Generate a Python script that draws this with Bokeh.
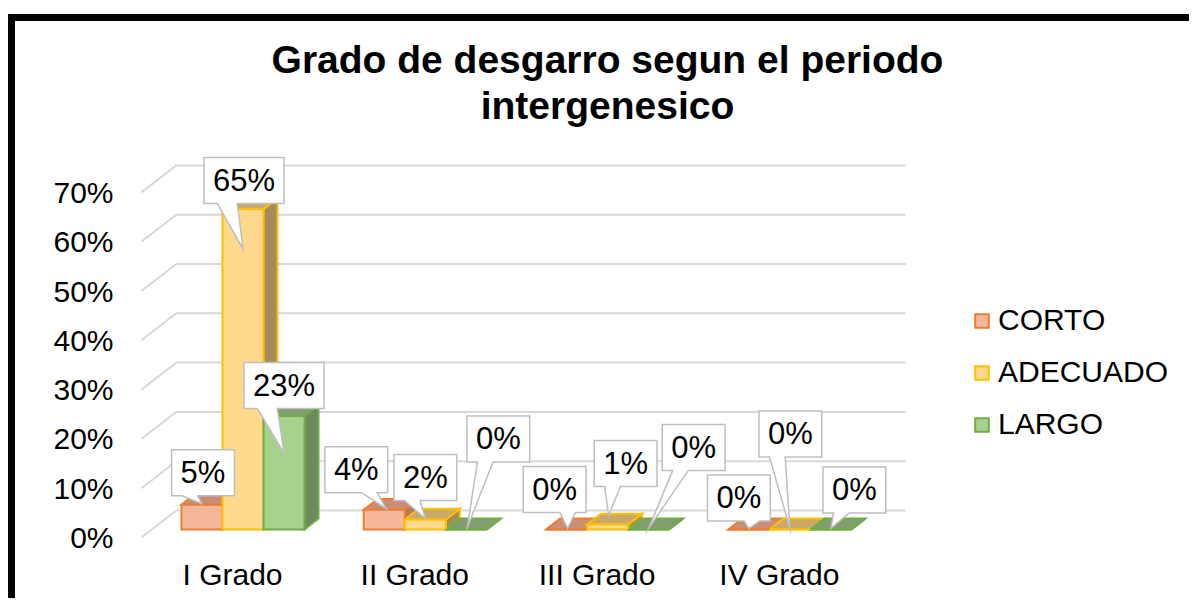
from bokeh.plotting import figure
from bokeh.models import Range1d, FixedTicker, PrintfTickFormatter, Legend, LegendItem, Title
from bokeh.embed import file_html
from bokeh.resources import INLINE
from bokeh.core.properties import value

# ---------------- data ----------------
CATEGORIES = ["I Grado", "II Grado", "III Grado", "IV Grado"]
SERIES = ["CORTO", "ADECUADO", "LARGO"]
CORTO = [5, 4, 0, 0]
ADECUADO = [65, 2, 1, 0]
LARGO = [23, 0, 0, 0]
Y_TICKS = [0, 10, 20, 30, 40, 50, 60, 70]
TITLE_LINES = ["Grado de desgarro segun el periodo", "intergenesico"]

VALUES = [CORTO, ADECUADO, LARGO]

# ---------------- style ----------------
FONT = "Liberation Sans"
FRONT = ["#F5B799", "#FFD98B", "#A9D18E"]
EDGE = ["#ED7D31", "#FFC000", "#70AD47"]
TOP = ["#C98E73", "#C9A86A", "#819E6E"]
SIDE = ["#B27A60", "#A58B5B", "#6E8A5D"]
GRID = "#D9D9D9"

W, H = 1181, 584
ML, MR, MT, MB = 125, 0, 107, 55
PXX, PXY = 182.3, 4.93          # px per category unit / per percent
OX, OY = 217.0, 516.0           # canvas position of x=0, y=0 on the front plane
DEPTH_PX = (35.0, 27.0)         # screen shift from front (z=0) to back wall (z=1)
BAR_W = 0.225
Z0, Z1 = 0.3, 0.7
TITLE_PX = 39
TITLE_CENTER = 592              # canvas x of the title centre

# data-label layout: box-centre offset and pointer-tip offset (px) from bar top
BOX_OFF = [[(1, -32), (1, -28.5), (0, -30.6)],
           [(-28, -40), (0, -42), (32, -90.5)],
           [(-12, -40), (18, -61), (45, -82)],
           [(-10, -31.5), (0.5, -95.5), (23.5, -39.5)]]
TIP_OFF = [[(0, -1), (0, 40), (0, 37)],
           [(2, -1), (0, -1), (1, -2)],
           [(1, -1), (1, -9), (0, -1)],
           [(0, -1), (0, -1), (0, -1)]]
LABEL_PX = 31
BOX_H = 46

# Arial/Liberation Sans Bold advance widths (em) for centring the title lines
BOLD_W = {"G": .778, "r": .389, "a": .556, "d": .611, "o": .611, " ": .278, "e": .556,
          "s": .556, "g": .611, "u": .611, "n": .611, "l": .278, "p": .611, "i": .278,
          "t": .333, "c": .556}


def proj(x, y, z):
    return x + z * DEPTH_PX[0] / PXX, y + z * DEPTH_PX[1] / PXY


def to_data(cx, cy):
    return (cx - OX) / PXX, (OY - cy) / PXY


def to_canvas(xd, yd):
    return OX + xd * PXX, OY - yd * PXY


def poly(pts3):
    xs, ys = [], []
    for (x, y, z) in pts3:
        a, b = proj(x, y, z)
        xs.append(a)
        ys.append(b)
    return xs, ys


def callout(l, t, r, b, xt, yt):
    w, h = r - l, b - t
    hc, vc = (l + r) / 2, (t + b) / 2
    dx, dy = xt - hc, yt - vc
    dq = dx * h / w
    if abs(dy) - abs(dq) > 0:
        a, c = (7, 10) if dx > 0 else (2, 5)
        x1, x2 = l + w * a / 12, l + w * c / 12
        if dy < 0:
            pts = [(l, t), (x1, t), (xt, yt), (x2, t), (r, t), (r, b), (l, b)]
        else:
            pts = [(l, t), (r, t), (r, b), (x2, b), (xt, yt), (x1, b), (l, b)]
    else:
        a, c = (7, 10) if dy > 0 else (2, 5)
        y1, y2 = t + h * a / 12, t + h * c / 12
        if dx > 0:
            pts = [(l, t), (r, t), (r, y1), (xt, yt), (r, y2), (r, b), (l, b)]
        else:
            pts = [(l, t), (r, t), (r, b), (l, b), (l, y2), (xt, yt), (l, y1)]
    return pts


p = figure(width=W, height=H, output_backend="svg", toolbar_location=None, title=None,
           x_range=Range1d((ML - OX) / PXX, (W - MR - OX) / PXX),
           y_range=Range1d((OY - (H - MB)) / PXY, (OY - MT) / PXY),
           min_border_left=ML, min_border_right=MR, min_border_top=MT,
           min_border_bottom=MB)
p.styles = {"border-top": "7px solid black", "border-left": "7px solid black",
            "margin-top": "14px", "margin-left": "8px"}
p.outline_line_color = None
p.grid.visible = False
p.background_fill_color = "white"
p.border_fill_color = "white"

# title: two centred lines (nearest line to the frame added first)
for line, so in ((TITLE_LINES[1], 3), (TITLE_LINES[0], 0)):
    tw = sum(BOLD_W.get(ch, .6) for ch in line) * TITLE_PX
    p.add_layout(Title(text=line, align="left", offset=TITLE_CENTER - tw / 2 - ML,
                       text_font=FONT, text_font_size=f"{TITLE_PX}px",
                       text_font_style="bold", text_color="black", standoff=so), "above")

# axes
for ax in (p.xaxis[0], p.yaxis[0]):
    ax.axis_line_color = None
    ax.major_tick_line_color = None
    ax.minor_tick_line_color = None
    ax.major_label_text_font = FONT
    ax.major_label_text_font_size = "30px"
    ax.major_label_text_color = "black"
p.yaxis.ticker = FixedTicker(ticks=Y_TICKS)
p.yaxis.formatter = PrintfTickFormatter(format="%d%%")
p.yaxis.major_label_standoff = 21
p.xaxis.ticker = FixedTicker(ticks=list(range(len(CATEGORIES))))
p.xaxis.major_label_overrides = {i: c for i, c in enumerate(CATEGORIES)}
p.xaxis.major_label_standoff = 1

# back wall gridlines (with floor diagonal on the left)
x_lo, x_hi = -0.5, len(CATEGORIES) - 0.5
gx, gy = [], []
for t in Y_TICKS:
    xs, ys = poly([(x_lo, t, 0), (x_lo, t, 1), (x_hi, t, 1)])
    gx.append(xs)
    gy.append(ys)
p.multi_line(gx, gy, line_color=GRID, line_width=2)

# 3D bars: side and top faces first (left to right), then front faces
px_, py_, pf, pl = [], [], [], []
for i in range(len(CATEGORIES)):
    for k in range(len(SERIES)):
        v = VALUES[k][i]
        x0 = i - 1.5 * BAR_W + k * BAR_W
        x1 = x0 + BAR_W
        xs, ys = poly([(x1, 0, Z0), (x1, v, Z0), (x1, v, Z1), (x1, 0, Z1)])
        px_.append(xs); py_.append(ys); pf.append(SIDE[k]); pl.append(EDGE[k])
        xs, ys = poly([(x0, v, Z0), (x1, v, Z0), (x1, v, Z1), (x0, v, Z1)])
        px_.append(xs); py_.append(ys); pf.append(TOP[k]); pl.append(EDGE[k])
p.patches(px_, py_, fill_color=pf, line_color=pl, line_width=2, line_join="miter")

fronts = []
for k in range(len(SERIES)):
    L, R, B, T = [], [], [], []
    for i in range(len(CATEGORIES)):
        v = VALUES[k][i]
        x0 = i - 1.5 * BAR_W + k * BAR_W
        a, b = proj(x0, 0, Z0)
        c, d = proj(x0 + BAR_W, v, Z0)
        L.append(a); R.append(c); B.append(b); T.append(d)
    r = p.quad(left=L, right=R, bottom=B, top=T, fill_color=FRONT[k],
               line_color=EDGE[k], line_width=2, line_join="miter")
    fronts.append(r)

# data label callouts
cx_, cy_, tx, ty, tt = [], [], [], [], []
for i in range(len(CATEGORIES)):
    for k in range(len(SERIES)):
        v = VALUES[k][i]
        txt = f"{v:g}%"
        ax_, ay_ = proj(i - 1.5 * BAR_W + (k + 0.5) * BAR_W, v, Z0)
        acx, acy = to_canvas(ax_, ay_)
        bcx, bcy = acx + BOX_OFF[i][k][0], acy + BOX_OFF[i][k][1]
        tcx, tcy = acx + TIP_OFF[i][k][0], acy + TIP_OFF[i][k][1]
        tw = sum(0.889 if ch == "%" else 0.556 for ch in txt) * LABEL_PX + 18
        pts = callout(bcx - tw / 2, bcy - BOX_H / 2, bcx + tw / 2, bcy + BOX_H / 2, tcx, tcy)
        dp = [to_data(a, b) for a, b in pts]
        cx_.append([q[0] for q in dp]); cy_.append([q[1] for q in dp])
        lx, ly = to_data(bcx, bcy)
        tx.append(lx); ty.append(ly); tt.append(txt)
p.patches(cx_, cy_, fill_color="white", line_color="#BFBFBF", line_width=1.5,
          line_join="miter")
p.text(x=tx, y=ty, text=tt, text_align="center", text_baseline="middle",
       text_font=value(FONT), text_font_size=value(f"{LABEL_PX}px"), text_color="black")

legend = Legend(items=[LegendItem(label=s, renderers=[fronts[k]]) for k, s in enumerate(SERIES)],
                location=(833, 109), orientation="vertical",
                label_text_font=FONT, label_text_font_size="30px", label_text_color="black",
                glyph_width=17, glyph_height=17, label_standoff=8, spacing=18,
                padding=0, margin=0, border_line_alpha=0, background_fill_alpha=0)
p.add_layout(legend)

open("out.html", "w").write(file_html(p, INLINE))
